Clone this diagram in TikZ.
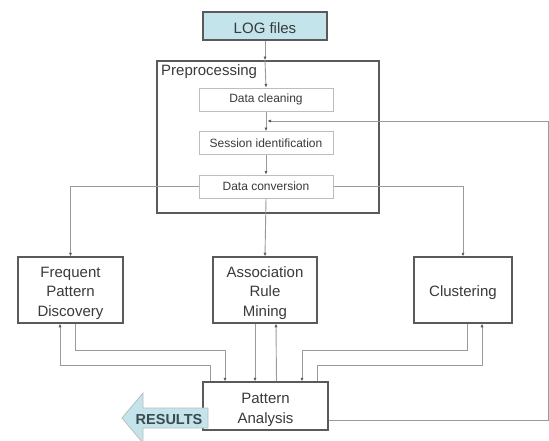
\documentclass[tikz,border=0pt]{standalone}
\usepackage{fontspec}
\setmainfont{Liberation Sans}
\usetikzlibrary{arrows.meta}
\definecolor{txt}{HTML}{3A3A3A}
\definecolor{lnc}{HTML}{9A9A9A}
\definecolor{bdr}{HTML}{5A5A5A}
\definecolor{inb}{HTML}{BDBDBD}
\definecolor{cyanf}{HTML}{C3E4EA}
\definecolor{restxt}{HTML}{3C4A50}
\begin{document}
\begin{tikzpicture}[x=1pt,y=-1pt,
  bigbox/.style={draw=bdr, line width=1.5pt, inner sep=0pt},
  bigtext/.style={text=txt, font=\fontsize{15}{19.5}\selectfont, align=center, inner sep=0pt},
  smallbox/.style={draw=inb, line width=1pt, text=txt, font=\fontsize{12}{14}\selectfont, minimum width=134pt, minimum height=23pt, inner sep=0pt},
  conn/.style={draw=lnc, line width=0.9pt},
  arr/.style={conn, -{Latex[length=3.5pt,width=3.2pt,color=bdr]}}]
\fill[white] (0,0) rectangle (549,440);
\useasboundingbox (0,0) rectangle (549,440);

% nodes
\node[bigbox, fill=cyanf, minimum width=124pt, minimum height=28pt] (LOG) at (265,26) {};
\node[bigtext] (LOGt) at ([yshift=-2pt]LOG.center) {LOG files};
\node[draw=bdr, line width=2pt, minimum width=222pt, minimum height=152pt, inner sep=0pt] (Prep) at (268,137) {};
\node[anchor=north west, inner sep=0pt, text=txt, font=\fontsize{15}{18}\selectfont] (PrepL) at (161,64) {Preprocessing};
\node[smallbox] (DC) at (266,99.5) {Data cleaning};
\node[smallbox] (SI) at (266,143) {Session identification};
\node[smallbox] (DV) at (266,186.5) {Data conversion};

\node[bigbox, minimum width=105pt, minimum height=66pt] (FPD) at (70.5,290) {};
\node[bigtext] (FPDt) at ([yshift=-3pt]FPD.center) {Frequent\\Pattern\\Discovery};
\node[bigbox, minimum width=104pt, minimum height=66pt] (ARM) at (265,290) {};
\node[bigtext] (ARMt) at ([yshift=-3pt]ARM.center) {Association\\Rule\\Mining};
\node[bigbox, minimum width=98pt, minimum height=66pt] (CL) at (463,290) {};
\node[bigtext] (CLt) at ([yshift=-3pt]CL.center) {Clustering};
\node[bigbox, minimum width=125pt, minimum height=48pt] (PA) at (265.5,406) {};
\node[bigtext] (PAt) at ([yshift=-4pt]PA.center) {Pattern\\Analysis};

% results arrow
\filldraw[fill=cyanf, draw=inb, line width=0.8pt] (208,408) -- (143,408) -- (143,393) -- (122,418) -- (143,443) -- (143,428) -- (208,428) -- cycle;
\node[text=restxt, font=\bfseries\fontsize{14.5}{16}\selectfont, inner sep=0pt] (RES) at (169,419) {RESULTS};

% coordinates
\coordinate (fbR) at (548,420);
\coordinate (fbT) at (548,121);
\coordinate (fbE) at (267.5,121);

% main flow
\draw[arr] (LOG.south) -- (LOG.south |- Prep.north);
\draw[arr] (LOG.south |- Prep.north) -- (DC.north);
\draw[arr] (DC) -- (SI);
\draw[arr] (SI) -- (DV);
\draw[arr] (DV.south) -- (ARM.north);
\draw[arr] (DV.west) -| (FPD.north);
\draw[arr] (DV.east) -| (CL.north);
\draw[arr] (PA.east |- fbR) -- (fbR) -- (fbT) -- (fbE);

% FPD <-> PA
\draw[arr] ([xshift=-55.5pt]PA.north) -- ++(0,-16) -| ([xshift=-10.5pt]FPD.south);
\draw[arr] ([xshift=4.5pt]FPD.south) -- ++(0,27) -| ([xshift=-40.5pt]PA.north);
% ARM <-> PA
\draw[arr] ([xshift=-10pt]ARM.south) -- ([xshift=-10.5pt]PA.north);
\draw[arr] ([xshift=11pt]PA.north) -- ([xshift=11pt]ARM.south);
% CL <-> PA
\draw[arr] ([xshift=4pt]CL.south) -- ++(0,27) -| ([xshift=36.5pt]PA.north);
\draw[arr] ([xshift=51.5pt]PA.north) -- ++(0,-16) -| ([xshift=19pt]CL.south);
\end{tikzpicture}
\end{document}
